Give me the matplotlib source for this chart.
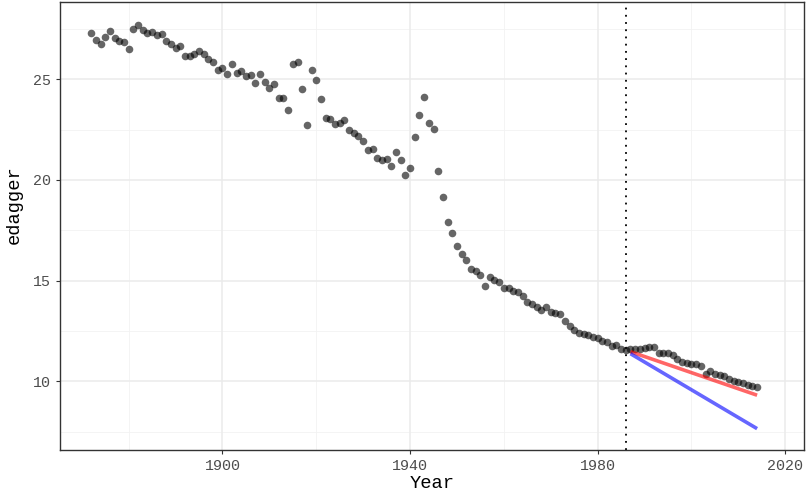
import numpy as np
import matplotlib
matplotlib.use("Agg")
import matplotlib.pyplot as plt

years = np.arange(1872, 2015)
edagger = [
    27.29, 26.96, 26.73, 27.09, 27.39, 27.02, 26.88, 26.83, 26.49, 27.49,  # 1872-1881
    27.69, 27.45, 27.29, 27.32, 27.19, 27.24, 26.89, 26.73, 26.53, 26.63,  # 1882-1891
    26.13, 26.16, 26.23, 26.39, 26.23, 26.00, 25.86, 25.46, 25.53, 25.26,  # 1892-1901
    25.76, 25.33, 25.40, 25.16, 25.23, 24.80, 25.26, 24.84, 24.57, 24.74,  # 1902-1911
    24.04, 24.07, 23.47, 25.73, 25.83, 24.50, 22.71, 25.46, 24.94, 24.00,  # 1912-1921
    23.07, 23.01, 22.75, 22.81, 22.98, 22.48, 22.31, 22.18, 21.92, 21.48,  # 1922-1931
    21.52, 21.08, 20.99, 21.02, 20.69, 21.38, 20.99, 20.26, 20.59, 22.15,  # 1932-1941
    23.24, 24.10, 22.83, 22.55, 20.42, 19.14, 17.92, 17.35, 16.71, 16.34,  # 1942-1951
    16.04, 15.56, 15.48, 15.30, 14.72, 15.18, 15.02, 14.95, 14.62, 14.65,  # 1952-1961
    14.49, 14.42, 14.25, 13.92, 13.86, 13.69, 13.52, 13.69, 13.46, 13.39,  # 1962-1971
    13.36, 13.00, 12.76, 12.56, 12.40, 12.36, 12.30, 12.20, 12.13, 12.00,  # 1972-1981
    11.93, 11.77, 11.79, 11.62, 11.57, 11.62, 11.60, 11.60, 11.63, 11.71,  # 1982-1991
    11.72, 11.43, 11.43, 11.43, 11.30, 11.10, 10.97, 10.91, 10.84, 10.84,  # 1992-2001
    10.77, 10.37, 10.51, 10.37, 10.31, 10.24, 10.11, 10.04, 9.98, 9.91,    # 2002-2011
    9.81, 9.78, 9.71,                                                      # 2012-2014
]

fc_years = [1987, 2014]
fc_red = [11.47, 9.31]
fc_blue = [11.37, 7.65]
cut_year = 1986

mono = ["Liberation Mono", "DejaVu Sans Mono"]

fig = plt.figure(figsize=(8.07, 4.91), dpi=100)
ax = fig.add_axes([60 / 807, 1 - 450 / 491, 744 / 807, 448 / 491])

ax.set_xlim(1865.35, 2024.0)
ax.set_ylim(6.59, 28.83)

# minor grid like theme_bw
for v in np.arange(1880, 2030, 40):
    ax.axvline(v, color="#F2F2F2", lw=0.6, zorder=0)
for v in [7.5, 12.5, 17.5, 22.5, 27.5]:
    ax.axhline(v, color="#F2F2F2", lw=0.6, zorder=0)
ax.set_xticks([1900, 1940, 1980, 2020])
ax.set_yticks([10, 15, 20, 25])
ax.grid(True, color="#EBEBEB", lw=1.1, zorder=0)
ax.set_axisbelow(True)

ax.scatter(years, edagger, s=30, color="black", alpha=0.6, linewidths=0, zorder=3)
ax.plot(fc_years, fc_red, color="#FF0000", alpha=0.6, lw=2.6, solid_capstyle="butt", zorder=4)
ax.plot(fc_years, fc_blue, color="#0000FF", alpha=0.6, lw=2.6, solid_capstyle="butt", zorder=4)
ax.axvline(cut_year, color="black", lw=1.3, linestyle=(0, (1, 3)), zorder=2)

for s in ax.spines.values():
    s.set_color("#333333")
    s.set_linewidth(1.0)

ax.tick_params(axis="both", length=3, width=0.8, color="#333333",
               labelcolor="#4D4D4D", labelsize=10.8)
for lab in ax.get_xticklabels() + ax.get_yticklabels():
    lab.set_family(mono)

ax.set_xlabel("Year", family=mono, fontsize=13.5, color="black")
ax.set_ylabel("edagger", family=mono, fontsize=13.5, color="black")
ax.xaxis.set_label_coords(0.5, -0.055)
ax.yaxis.set_label_coords(-0.05, 0.547)

fig.savefig("out.png", dpi=100)
